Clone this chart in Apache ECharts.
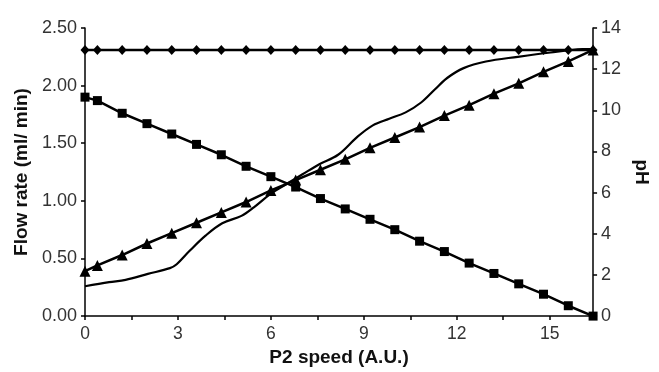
<!DOCTYPE html>
<html>
<head>
<meta charset="utf-8">
<script src="https://cdn.jsdelivr.net/npm/echarts@6/dist/echarts.min.js"></script>
<style>html,body{margin:0;padding:0;background:#fff}#c{width:659px;height:372px}</style>
</head>
<body>
<div id="c"></div>
<script>
// P2 speed values where markers were measured
const speed = [0, 0.4, 1.2, 2.0, 2.8, 3.6, 4.4, 5.2, 6.0, 6.8, 7.6, 8.4, 9.2, 10.0, 10.8, 11.6, 12.4, 13.2, 14.0, 14.8, 15.6, 16.4];
// Total flow (diamonds), left axis
const totalFlow = [2.31, 2.31, 2.31, 2.31, 2.31, 2.31, 2.31, 2.31, 2.31, 2.31, 2.31, 2.31, 2.31, 2.31, 2.31, 2.31, 2.31, 2.31, 2.31, 2.31, 2.31, 2.31];
// Decreasing flow (squares), left axis
const flowDown = [1.90, 1.87, 1.76, 1.67, 1.58, 1.49, 1.40, 1.30, 1.21, 1.12, 1.02, 0.93, 0.84, 0.75, 0.65, 0.56, 0.46, 0.37, 0.28, 0.19, 0.09, 0.00];
// Increasing flow (triangles), left axis
const flowUp = [0.39, 0.44, 0.53, 0.63, 0.72, 0.81, 0.90, 0.99, 1.09, 1.18, 1.27, 1.36, 1.46, 1.55, 1.64, 1.74, 1.83, 1.93, 2.02, 2.12, 2.21, 2.31];
// pH curve, right axis
const phSpeed = [0, 0.78, 1.31, 2.03, 2.74, 2.96, 3.37, 3.90, 4.43, 5.05, 5.46, 5.99, 6.49, 7.02, 7.55, 8.17, 8.79, 9.29, 9.82, 10.35, 10.85, 11.29, 11.69, 12.22, 12.94, 13.97, 15.03, 16.06, 16.4];
const phValues = [1.45, 1.65, 1.76, 2.05, 2.33, 2.52, 3.16, 3.92, 4.51, 4.87, 5.30, 5.94, 6.41, 6.89, 7.37, 7.84, 8.71, 9.27, 9.59, 9.90, 10.38, 11.01, 11.57, 12.05, 12.37, 12.60, 12.81, 12.97, 12.98];
const xTicks = [0, 3, 6, 9, 12, 15];

const pairs = (xs, ys) => xs.map((x, i) => [x, ys[i]]);
const font = 'Liberation Sans, Arial, sans-serif';
const lineStyle = { color: '#000', width: 2.5 };

const chart = echarts.init(document.getElementById('c'), null, { renderer: 'canvas' });
chart.setOption({
  animation: false,
  backgroundColor: '#fff',
  grid: { left: 85, right: 48, top: 28, bottom: 49 },
  xAxis: {
    type: 'value', min: 0, max: 16.4, interval: 1.5,
    name: 'P2 speed (A.U.)', nameLocation: 'middle', nameGap: 30,
    nameTextStyle: { fontFamily: font, fontWeight: 'bold', fontSize: 19, color: '#111' },
    axisLine: { lineStyle: { color: '#000', width: 1.5 } },
    axisTick: { inside: false, length: 4, lineStyle: { color: '#000', width: 1.5 } },
    axisLabel: {
      margin: 9, fontFamily: font, fontSize: 17.5, color: '#333',
      formatter: v => (xTicks.indexOf(Math.round(v * 100) / 100) >= 0 ? String(v) : '')
    },
    splitLine: { show: false }
  },
  yAxis: [
    {
      type: 'value', min: 0, max: 2.5, interval: 0.5, position: 'left',
      name: 'Flow rate (ml/ min)', nameLocation: 'middle', nameGap: 54, nameRotate: 90,
      nameTextStyle: { fontFamily: font, fontWeight: 'bold', fontSize: 19, color: '#111' },
      axisLine: { show: true, lineStyle: { color: '#000', width: 1.5 } },
      axisTick: { show: true, length: 4, lineStyle: { color: '#000', width: 1.5 } },
      axisLabel: { margin: 8, fontFamily: font, fontSize: 18, color: '#333', formatter: v => v.toFixed(2) },
      splitLine: { show: false }
    },
    {
      type: 'value', min: 0, max: 14, interval: 2, position: 'right',
      name: 'pH', nameLocation: 'middle', nameGap: 33, nameRotate: -90,
      nameTextStyle: { fontFamily: font, fontWeight: 'bold', fontSize: 19, color: '#111' },
      axisLine: { show: true, lineStyle: { color: '#000', width: 1.5 } },
      axisTick: { show: true, length: 4, lineStyle: { color: '#000', width: 1.5 } },
      axisLabel: { margin: 8, fontFamily: font, fontSize: 18, color: '#333' },
      splitLine: { show: false }
    }
  ],
  series: [
    {
      type: 'line', yAxisIndex: 0, data: pairs(speed, totalFlow),
      symbol: 'diamond', symbolSize: [9, 10], itemStyle: { color: '#000' }, lineStyle
    },
    {
      type: 'line', yAxisIndex: 0, data: pairs(speed, flowDown),
      symbol: 'rect', symbolSize: 9, itemStyle: { color: '#000' }, lineStyle
    },
    {
      type: 'line', yAxisIndex: 0, data: pairs(speed, flowUp),
      symbol: 'triangle', symbolSize: 11, itemStyle: { color: '#000' }, lineStyle
    },
    {
      type: 'line', yAxisIndex: 1, data: pairs(phSpeed, phValues),
      symbol: 'none', smooth: 0.35, lineStyle: { color: '#000', width: 2.2 }
    }
  ]
});
</script>
</body>
</html>
